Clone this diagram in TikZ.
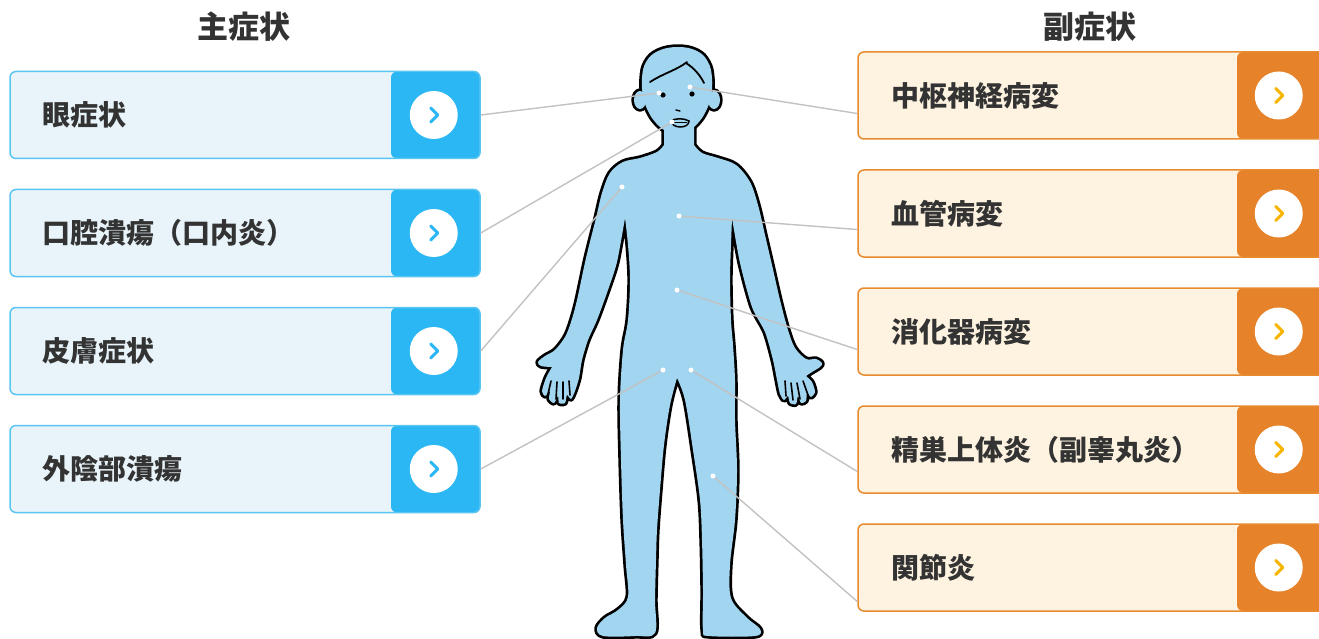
\documentclass[tikz,border=0pt]{standalone}
\usepackage{fontspec}
\setmainfont{Noto Sans CJK JP}
\definecolor{lborder}{HTML}{5BC5F2}
\definecolor{lfill}{HTML}{E8F4FA}
\definecolor{lbtn}{HTML}{2BB7F3}
\definecolor{rborder}{HTML}{E88A2E}
\definecolor{rfill}{HTML}{FEF3E0}
\definecolor{rbtn}{HTML}{E6832A}
\definecolor{rchev}{HTML}{F7B500}
\definecolor{txt}{HTML}{333333}
\definecolor{wire}{HTML}{C2C2C2}
\definecolor{skin}{HTML}{A2D5F0}
\tikzset{
  lbox/.style={draw=lborder, line width=1.5pt, fill=lfill, rounded corners=6pt,
    minimum width=470pt, minimum height=87pt, inner sep=0pt,
    path picture={\fill[lbtn] ([xshift=-89pt]path picture bounding box.north east)
      rectangle (path picture bounding box.south east);}},
  rbox/.style={draw=rborder, line width=1.5pt, fill=rfill, rounded corners=6pt,
    minimum width=472pt, minimum height=87pt, inner sep=0pt,
    path picture={\fill[rbtn] ([xshift=-93pt]path picture bounding box.north east)
      rectangle (path picture bounding box.south east);}},
  lbl/.style={text=txt, font=\bfseries\fontsize{28pt}{32pt}\selectfont, anchor=west, inner sep=0pt},
  head/.style={text=txt, font=\bfseries\fontsize{31pt}{36pt}\selectfont, inner sep=0pt},
  btncirc/.style={circle, fill=white, minimum size=48pt, inner sep=0pt},
  lchev/.style={draw=lbtn, line width=3pt, line cap=round, line join=round},
  rchevron/.style={draw=rchev, line width=3pt, line cap=round, line join=round},
  wireline/.style={draw=wire, line width=1.4pt},
  spot/.style={circle, fill=white, minimum size=5pt, inner sep=0pt},
  outline/.style={draw=black, line width=5.4pt, line join=round},
  finger/.style={draw=black, line width=1.6pt, line cap=round},
}
% body silhouette, neck down
\def\torsopath{(664,118) -- plot[smooth, tension=0.55] coordinates {(664,145) (657,152) (640,158) (623,162) (610,173) (602,193) (596,218) (586,258) (577,300) (571,322) (565,337) (555,350) (545,356) (538,362) (541,366) (552,367)}
 -- plot[smooth, tension=0.45] coordinates {(552,367) (546,378) (542,391) (545,396) (550,391) (549,399) (554,403) (558,396) (559,403) (565,403) (567,395) (571,399) (575,391) (579,378) (582,360) (588,340) (597,320) (608,290) (617,262) (625,218)}
 -- plot[smooth, tension=0.55] coordinates {(625,218) (628,245) (630,280) (628,320) (623,350) (620,400) (621,460) (623,520) (626,565) (628,597) (618,610) (605,618) (597,628) (603,636) (635,636) (655,633) (655,600) (656,560) (657,530) (660,490) (664,445) (670,405) (677,378)}
 -- plot[smooth, tension=0.55] coordinates {(677,378) (685,400) (693,450) (700,500) (702,540) (703,590) (703,630) (709,636) (755,636) (760,629) (746,617) (731,598) (730,565) (735,520) (737,470) (735,420) (735,380) (733,345) (731,320) (730,280) (731,245) (732,218)}
 -- plot[smooth, tension=0.45] coordinates {(732,218) (740,263) (752,307) (765,332) (773,360) (777,380) (780,394) (784,400) (788,396) (790,403) (796,404) (798,396) (801,403) (806,401) (807,393) (811,397) (815,392) (812,382) (806,376)}
 -- plot[smooth, tension=0.55] coordinates {(806,376) (812,372) (820,367) (822,363) (816,359) (806,359) (795,348) (788,330) (780,300) (772,265) (765,235) (758,205) (750,182) (736,165) (718,158) (702,153) (694,145)}
 -- (694,118) -- cycle}
\def\headpath{plot[smooth cycle, tension=0.7] coordinates {(678,47) (697,51) (708,62) (712,78) (711,96) (706,111) (698,123) (688,131) (677,134) (666,131) (656,123) (648,111) (643,96) (642,78) (646,62) (658,51)}}
\def\earL{(640,100) ellipse [x radius=6, y radius=9]}
\def\earR{(714,100) ellipse [x radius=6, y radius=9]}
\begin{document}
\begin{tikzpicture}[x=1pt, y=-1pt]
\useasboundingbox (0,0) rectangle (1319,639);
\clip (0,0) rectangle (1319,639);

% column headings
\node[head] (hmain) at (244,27) {主症状};
\node[head] (hsub) at (1090,27) {副症状};

% main symptoms
\foreach \n/\y/\t in {1/115/眼症状, 2/233/口腔潰瘍（口内炎）, 3/351/皮膚症状, 4/469/外陰部潰瘍}{
  \node[lbox] (l\n) at (245,\y) {};
  \node[lbl] (lt\n) at ([xshift=33pt]l\n.west) {\t};
  \node[btncirc] (lc\n) at ([xshift=-47pt]l\n.east) {};
  \draw[lchev, shift={(lc\n)}] (-3,-7) -- (4,0) -- (-3,7);
}

% secondary symptoms
\foreach \n/\y/\t in {1/95.5/中枢神経病変, 2/213.5/血管病変, 3/331.5/消化器病変, 4/449.5/精巣上体炎（副睾丸炎）, 5/567.5/関節炎}{
  \node[rbox] (r\n) at (1094,\y) {};
  \node[lbl] (rt\n) at ([xshift=34pt]r\n.west) {\t};
  \node[btncirc] (rc\n) at ([xshift=-52pt]r\n.east) {};
  \draw[rchevron, shift={(rc\n)}] (-3,-7) -- (4,0) -- (-3,7);
}

% figure: thick outlines first, then fills, leaving one outline round the union
\draw[outline] \torsopath;
\draw[outline] \earL;
\draw[outline] \earR;
\draw[outline] \headpath;
\fill[skin] \torsopath;
\fill[skin] \earL;
\fill[skin] \earR;
\fill[skin] \headpath;

% fingers
\draw[finger] (551,381) -- (548,394);
\draw[finger] (557,382) -- (556,399);
\draw[finger] (563,382) -- (563,399);
\draw[finger] (569,381) -- (570,395);
\draw[finger] (785,381) -- (786,396);
\draw[finger] (791,383) -- (793,400);
\draw[finger] (797,383) -- (800,399);
\draw[finger] (803,381) -- (808,395);

% face
\draw[black, line width=1.8pt, line cap=round] (650,82) .. controls (664,73) and (677,70) .. (687,62);
\draw[black, line width=1.8pt, line cap=round] (686,63) .. controls (694,68) and (700,75) .. (704,83);
\fill[black] (663,95) circle [radius=2.6];
\fill[black] (692,94) circle [radius=2.6];
\draw[black, line width=1.4pt, line cap=round] (676,110) -- (680,111);
\draw[black, line width=1.5pt] (671,121) .. controls (675,118) and (684,118) .. (689,121)
  .. controls (689,129) and (672,129) .. (671,121);
\draw[black, line width=1pt] (674,123) -- (687,123);

% points on the figure
\coordinate (peye) at (659,93);
\coordinate (phead) at (690,87);
\coordinate (pmouth) at (672,122);
\coordinate (pskin) at (622,187);
\coordinate (pchest) at (679,216);
\coordinate (pbelly) at (677,290);
\coordinate (pgenL) at (663,370);
\coordinate (pgenR) at (691,370);
\coordinate (pknee) at (713,476);

% connectors
\draw[wireline] (l1.east) -- (peye);
\draw[wireline] (l2.east) -- (pmouth);
\draw[wireline] (l3.east) -- (pskin);
\draw[wireline] (l4.east) -- (pgenL);
\draw[wireline] ([yshift=-18pt]r1.west) -- (phead);
\draw[wireline] ([yshift=-16pt]r2.west) -- (pchest);
\draw[wireline] ([yshift=-18pt]r3.west) -- (pbelly);
\draw[wireline] ([yshift=-22pt]r4.west) -- (pgenR);
\draw[wireline] ([yshift=-34pt]r5.west) -- (pknee);

\foreach \p in {peye, phead, pmouth, pskin, pchest, pbelly, pgenL, pgenR, pknee}
  \node[spot] at (\p) {};
\end{tikzpicture}
\end{document}
